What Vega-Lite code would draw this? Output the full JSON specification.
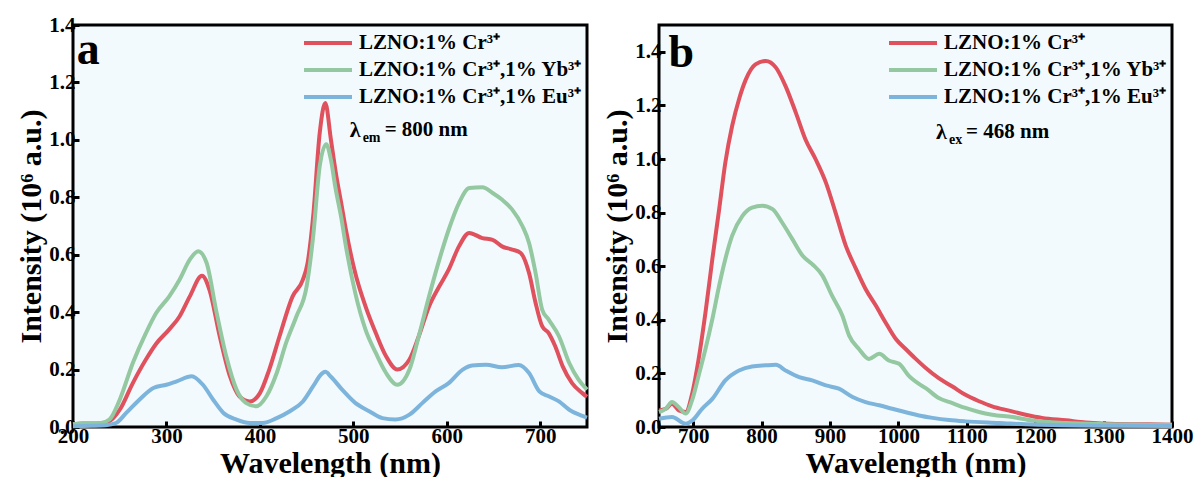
{
  "$schema": "https://vega.github.io/schema/vega-lite/v6.json",
  "background": "white",
  "padding": {"left": 15, "top": 12, "right": 5, "bottom": 0},
  "spacing": 4,
  "datasets": {
    "a": [
      {"w": 200, "v": 0.010, "s": "Cr"}, {"w": 210, "v": 0.012, "s": "Cr"}, {"w": 220, "v": 0.012, "s": "Cr"}, {"w": 230, "v": 0.013, "s": "Cr"}, {"w": 239, "v": 0.020, "s": "Cr"}, {"w": 250, "v": 0.060, "s": "Cr"}, {"w": 264, "v": 0.153, "s": "Cr"}, {"w": 278, "v": 0.235, "s": "Cr"}, {"w": 289, "v": 0.290, "s": "Cr"}, {"w": 303, "v": 0.340, "s": "Cr"}, {"w": 314, "v": 0.385, "s": "Cr"}, {"w": 325, "v": 0.455, "s": "Cr"}, {"w": 338, "v": 0.527, "s": "Cr"}, {"w": 346, "v": 0.478, "s": "Cr"}, {"w": 357, "v": 0.316, "s": "Cr"}, {"w": 368, "v": 0.176, "s": "Cr"}, {"w": 378, "v": 0.107, "s": "Cr"}, {"w": 389, "v": 0.089, "s": "Cr"}, {"w": 400, "v": 0.118, "s": "Cr"}, {"w": 410, "v": 0.200, "s": "Cr"}, {"w": 421, "v": 0.316, "s": "Cr"}, {"w": 435, "v": 0.455, "s": "Cr"}, {"w": 446, "v": 0.513, "s": "Cr"}, {"w": 451, "v": 0.571, "s": "Cr"}, {"w": 457, "v": 0.734, "s": "Cr"}, {"w": 464, "v": 1.024, "s": "Cr"}, {"w": 470, "v": 1.128, "s": "Cr"}, {"w": 476, "v": 1.000, "s": "Cr"}, {"w": 481, "v": 0.890, "s": "Cr"}, {"w": 487, "v": 0.780, "s": "Cr"}, {"w": 492, "v": 0.687, "s": "Cr"}, {"w": 502, "v": 0.536, "s": "Cr"}, {"w": 513, "v": 0.420, "s": "Cr"}, {"w": 524, "v": 0.327, "s": "Cr"}, {"w": 535, "v": 0.246, "s": "Cr"}, {"w": 547, "v": 0.200, "s": "Cr"}, {"w": 560, "v": 0.235, "s": "Cr"}, {"w": 570, "v": 0.316, "s": "Cr"}, {"w": 581, "v": 0.420, "s": "Cr"}, {"w": 592, "v": 0.490, "s": "Cr"}, {"w": 602, "v": 0.548, "s": "Cr"}, {"w": 613, "v": 0.629, "s": "Cr"}, {"w": 624, "v": 0.676, "s": "Cr"}, {"w": 638, "v": 0.658, "s": "Cr"}, {"w": 649, "v": 0.652, "s": "Cr"}, {"w": 659, "v": 0.629, "s": "Cr"}, {"w": 670, "v": 0.618, "s": "Cr"}, {"w": 679, "v": 0.606, "s": "Cr"}, {"w": 688, "v": 0.536, "s": "Cr"}, {"w": 695, "v": 0.432, "s": "Cr"}, {"w": 702, "v": 0.351, "s": "Cr"}, {"w": 709, "v": 0.327, "s": "Cr"}, {"w": 716, "v": 0.281, "s": "Cr"}, {"w": 724, "v": 0.211, "s": "Cr"}, {"w": 734, "v": 0.153, "s": "Cr"}, {"w": 745, "v": 0.118, "s": "Cr"}, {"w": 750, "v": 0.105, "s": "Cr"},
      {"w": 200, "v": 0.010, "s": "Yb"}, {"w": 210, "v": 0.012, "s": "Yb"}, {"w": 220, "v": 0.012, "s": "Yb"}, {"w": 230, "v": 0.014, "s": "Yb"}, {"w": 239, "v": 0.026, "s": "Yb"}, {"w": 250, "v": 0.095, "s": "Yb"}, {"w": 264, "v": 0.223, "s": "Yb"}, {"w": 278, "v": 0.327, "s": "Yb"}, {"w": 289, "v": 0.397, "s": "Yb"}, {"w": 303, "v": 0.455, "s": "Yb"}, {"w": 314, "v": 0.513, "s": "Yb"}, {"w": 325, "v": 0.583, "s": "Yb"}, {"w": 334, "v": 0.612, "s": "Yb"}, {"w": 343, "v": 0.571, "s": "Yb"}, {"w": 353, "v": 0.409, "s": "Yb"}, {"w": 364, "v": 0.246, "s": "Yb"}, {"w": 375, "v": 0.130, "s": "Yb"}, {"w": 385, "v": 0.084, "s": "Yb"}, {"w": 396, "v": 0.072, "s": "Yb"}, {"w": 407, "v": 0.107, "s": "Yb"}, {"w": 418, "v": 0.188, "s": "Yb"}, {"w": 428, "v": 0.293, "s": "Yb"}, {"w": 439, "v": 0.385, "s": "Yb"}, {"w": 450, "v": 0.490, "s": "Yb"}, {"w": 457, "v": 0.664, "s": "Yb"}, {"w": 464, "v": 0.908, "s": "Yb"}, {"w": 471, "v": 0.985, "s": "Yb"}, {"w": 476, "v": 0.930, "s": "Yb"}, {"w": 481, "v": 0.830, "s": "Yb"}, {"w": 487, "v": 0.730, "s": "Yb"}, {"w": 492, "v": 0.630, "s": "Yb"}, {"w": 502, "v": 0.467, "s": "Yb"}, {"w": 513, "v": 0.339, "s": "Yb"}, {"w": 524, "v": 0.258, "s": "Yb"}, {"w": 535, "v": 0.188, "s": "Yb"}, {"w": 547, "v": 0.147, "s": "Yb"}, {"w": 560, "v": 0.200, "s": "Yb"}, {"w": 570, "v": 0.316, "s": "Yb"}, {"w": 581, "v": 0.455, "s": "Yb"}, {"w": 592, "v": 0.583, "s": "Yb"}, {"w": 602, "v": 0.687, "s": "Yb"}, {"w": 613, "v": 0.780, "s": "Yb"}, {"w": 624, "v": 0.832, "s": "Yb"}, {"w": 638, "v": 0.835, "s": "Yb"}, {"w": 649, "v": 0.815, "s": "Yb"}, {"w": 659, "v": 0.792, "s": "Yb"}, {"w": 670, "v": 0.757, "s": "Yb"}, {"w": 681, "v": 0.699, "s": "Yb"}, {"w": 688, "v": 0.641, "s": "Yb"}, {"w": 695, "v": 0.536, "s": "Yb"}, {"w": 702, "v": 0.409, "s": "Yb"}, {"w": 709, "v": 0.374, "s": "Yb"}, {"w": 720, "v": 0.316, "s": "Yb"}, {"w": 731, "v": 0.223, "s": "Yb"}, {"w": 741, "v": 0.165, "s": "Yb"}, {"w": 750, "v": 0.130, "s": "Yb"},
      {"w": 200, "v": 0.003, "s": "Eu"}, {"w": 220, "v": 0.004, "s": "Eu"}, {"w": 235, "v": 0.006, "s": "Eu"}, {"w": 246, "v": 0.014, "s": "Eu"}, {"w": 257, "v": 0.049, "s": "Eu"}, {"w": 271, "v": 0.095, "s": "Eu"}, {"w": 286, "v": 0.136, "s": "Eu"}, {"w": 300, "v": 0.147, "s": "Eu"}, {"w": 311, "v": 0.159, "s": "Eu"}, {"w": 327, "v": 0.177, "s": "Eu"}, {"w": 339, "v": 0.147, "s": "Eu"}, {"w": 350, "v": 0.095, "s": "Eu"}, {"w": 361, "v": 0.049, "s": "Eu"}, {"w": 375, "v": 0.026, "s": "Eu"}, {"w": 389, "v": 0.014, "s": "Eu"}, {"w": 403, "v": 0.014, "s": "Eu"}, {"w": 418, "v": 0.031, "s": "Eu"}, {"w": 432, "v": 0.055, "s": "Eu"}, {"w": 446, "v": 0.089, "s": "Eu"}, {"w": 457, "v": 0.142, "s": "Eu"}, {"w": 466, "v": 0.185, "s": "Eu"}, {"w": 470, "v": 0.192, "s": "Eu"}, {"w": 476, "v": 0.175, "s": "Eu"}, {"w": 488, "v": 0.130, "s": "Eu"}, {"w": 502, "v": 0.084, "s": "Eu"}, {"w": 517, "v": 0.055, "s": "Eu"}, {"w": 531, "v": 0.031, "s": "Eu"}, {"w": 545, "v": 0.026, "s": "Eu"}, {"w": 560, "v": 0.043, "s": "Eu"}, {"w": 574, "v": 0.084, "s": "Eu"}, {"w": 588, "v": 0.124, "s": "Eu"}, {"w": 602, "v": 0.153, "s": "Eu"}, {"w": 617, "v": 0.200, "s": "Eu"}, {"w": 627, "v": 0.214, "s": "Eu"}, {"w": 642, "v": 0.217, "s": "Eu"}, {"w": 659, "v": 0.208, "s": "Eu"}, {"w": 677, "v": 0.216, "s": "Eu"}, {"w": 688, "v": 0.188, "s": "Eu"}, {"w": 699, "v": 0.124, "s": "Eu"}, {"w": 709, "v": 0.107, "s": "Eu"}, {"w": 720, "v": 0.089, "s": "Eu"}, {"w": 731, "v": 0.060, "s": "Eu"}, {"w": 745, "v": 0.039, "s": "Eu"}, {"w": 750, "v": 0.033, "s": "Eu"}
    ],
    "b": [
      {"w": 650, "v": 0.062, "s": "Cr"}, {"w": 660, "v": 0.068, "s": "Cr"}, {"w": 669, "v": 0.087, "s": "Cr"}, {"w": 679, "v": 0.062, "s": "Cr"}, {"w": 689, "v": 0.056, "s": "Cr"}, {"w": 699, "v": 0.130, "s": "Cr"}, {"w": 708, "v": 0.254, "s": "Cr"}, {"w": 718, "v": 0.428, "s": "Cr"}, {"w": 728, "v": 0.627, "s": "Cr"}, {"w": 738, "v": 0.813, "s": "Cr"}, {"w": 747, "v": 0.987, "s": "Cr"}, {"w": 757, "v": 1.124, "s": "Cr"}, {"w": 767, "v": 1.223, "s": "Cr"}, {"w": 777, "v": 1.297, "s": "Cr"}, {"w": 791, "v": 1.353, "s": "Cr"}, {"w": 806, "v": 1.366, "s": "Cr"}, {"w": 821, "v": 1.341, "s": "Cr"}, {"w": 835, "v": 1.272, "s": "Cr"}, {"w": 850, "v": 1.173, "s": "Cr"}, {"w": 864, "v": 1.074, "s": "Cr"}, {"w": 879, "v": 0.999, "s": "Cr"}, {"w": 894, "v": 0.912, "s": "Cr"}, {"w": 908, "v": 0.801, "s": "Cr"}, {"w": 923, "v": 0.677, "s": "Cr"}, {"w": 938, "v": 0.590, "s": "Cr"}, {"w": 952, "v": 0.515, "s": "Cr"}, {"w": 967, "v": 0.453, "s": "Cr"}, {"w": 981, "v": 0.391, "s": "Cr"}, {"w": 996, "v": 0.329, "s": "Cr"}, {"w": 1011, "v": 0.290, "s": "Cr"}, {"w": 1025, "v": 0.255, "s": "Cr"}, {"w": 1040, "v": 0.220, "s": "Cr"}, {"w": 1059, "v": 0.182, "s": "Cr"}, {"w": 1079, "v": 0.151, "s": "Cr"}, {"w": 1098, "v": 0.120, "s": "Cr"}, {"w": 1118, "v": 0.096, "s": "Cr"}, {"w": 1137, "v": 0.077, "s": "Cr"}, {"w": 1162, "v": 0.061, "s": "Cr"}, {"w": 1186, "v": 0.046, "s": "Cr"}, {"w": 1210, "v": 0.034, "s": "Cr"}, {"w": 1245, "v": 0.025, "s": "Cr"}, {"w": 1274, "v": 0.017, "s": "Cr"}, {"w": 1318, "v": 0.011, "s": "Cr"}, {"w": 1366, "v": 0.010, "s": "Cr"}, {"w": 1400, "v": 0.008, "s": "Cr"},
      {"w": 650, "v": 0.056, "s": "Yb"}, {"w": 660, "v": 0.068, "s": "Yb"}, {"w": 669, "v": 0.093, "s": "Yb"}, {"w": 679, "v": 0.074, "s": "Yb"}, {"w": 689, "v": 0.050, "s": "Yb"}, {"w": 699, "v": 0.105, "s": "Yb"}, {"w": 708, "v": 0.192, "s": "Yb"}, {"w": 718, "v": 0.292, "s": "Yb"}, {"w": 728, "v": 0.403, "s": "Yb"}, {"w": 738, "v": 0.528, "s": "Yb"}, {"w": 747, "v": 0.627, "s": "Yb"}, {"w": 757, "v": 0.714, "s": "Yb"}, {"w": 772, "v": 0.788, "s": "Yb"}, {"w": 786, "v": 0.819, "s": "Yb"}, {"w": 801, "v": 0.826, "s": "Yb"}, {"w": 816, "v": 0.813, "s": "Yb"}, {"w": 830, "v": 0.763, "s": "Yb"}, {"w": 845, "v": 0.701, "s": "Yb"}, {"w": 860, "v": 0.639, "s": "Yb"}, {"w": 874, "v": 0.608, "s": "Yb"}, {"w": 889, "v": 0.565, "s": "Yb"}, {"w": 903, "v": 0.490, "s": "Yb"}, {"w": 918, "v": 0.416, "s": "Yb"}, {"w": 928, "v": 0.341, "s": "Yb"}, {"w": 942, "v": 0.292, "s": "Yb"}, {"w": 957, "v": 0.254, "s": "Yb"}, {"w": 972, "v": 0.273, "s": "Yb"}, {"w": 986, "v": 0.248, "s": "Yb"}, {"w": 1001, "v": 0.236, "s": "Yb"}, {"w": 1015, "v": 0.192, "s": "Yb"}, {"w": 1030, "v": 0.161, "s": "Yb"}, {"w": 1040, "v": 0.145, "s": "Yb"}, {"w": 1059, "v": 0.108, "s": "Yb"}, {"w": 1079, "v": 0.089, "s": "Yb"}, {"w": 1098, "v": 0.071, "s": "Yb"}, {"w": 1118, "v": 0.056, "s": "Yb"}, {"w": 1137, "v": 0.046, "s": "Yb"}, {"w": 1167, "v": 0.037, "s": "Yb"}, {"w": 1196, "v": 0.024, "s": "Yb"}, {"w": 1245, "v": 0.015, "s": "Yb"}, {"w": 1293, "v": 0.011, "s": "Yb"}, {"w": 1400, "v": 0.008, "s": "Yb"},
      {"w": 650, "v": 0.031, "s": "Eu"}, {"w": 669, "v": 0.037, "s": "Eu"}, {"w": 689, "v": 0.012, "s": "Eu"}, {"w": 699, "v": 0.025, "s": "Eu"}, {"w": 713, "v": 0.068, "s": "Eu"}, {"w": 728, "v": 0.105, "s": "Eu"}, {"w": 747, "v": 0.174, "s": "Eu"}, {"w": 767, "v": 0.211, "s": "Eu"}, {"w": 786, "v": 0.226, "s": "Eu"}, {"w": 806, "v": 0.230, "s": "Eu"}, {"w": 821, "v": 0.232, "s": "Eu"}, {"w": 835, "v": 0.211, "s": "Eu"}, {"w": 855, "v": 0.186, "s": "Eu"}, {"w": 874, "v": 0.174, "s": "Eu"}, {"w": 894, "v": 0.155, "s": "Eu"}, {"w": 913, "v": 0.143, "s": "Eu"}, {"w": 933, "v": 0.112, "s": "Eu"}, {"w": 952, "v": 0.093, "s": "Eu"}, {"w": 972, "v": 0.081, "s": "Eu"}, {"w": 991, "v": 0.068, "s": "Eu"}, {"w": 1011, "v": 0.055, "s": "Eu"}, {"w": 1030, "v": 0.043, "s": "Eu"}, {"w": 1050, "v": 0.034, "s": "Eu"}, {"w": 1074, "v": 0.026, "s": "Eu"}, {"w": 1098, "v": 0.021, "s": "Eu"}, {"w": 1147, "v": 0.015, "s": "Eu"}, {"w": 1196, "v": 0.009, "s": "Eu"}, {"w": 1293, "v": 0.005, "s": "Eu"}, {"w": 1400, "v": 0.004, "s": "Eu"}
    ]
  },
  "hconcat": [
    {
      "width": 514,
      "height": 402,
      "layer": [
        {
          "data": {"name": "a"},
          "mark": {"type": "line", "strokeWidth": 4, "interpolate": "monotone"},
          "encoding": {
            "x": {"field": "w", "type": "quantitative", "scale": {"domain": [200, 750], "nice": false, "zero": false}, "axis": {"title": "Wavelength (nm)", "values": [200, 300, 400, 500, 600, 700], "format": "d"}},
            "y": {"field": "v", "type": "quantitative", "scale": {"domain": [0, 1.4], "nice": false}, "axis": {"title": "Intensity (10⁶ a.u.)", "values": [0, 0.2, 0.4, 0.6, 0.8, 1.0, 1.2, 1.4], "format": ".1f"}},
            "color": {"field": "s", "type": "nominal", "scale": {"domain": ["Cr", "Yb", "Eu"], "range": ["#e0515e", "#94c8a0", "#7db4dc"]}, "legend": {"labelExpr": "datum.label == 'Cr' ? 'LZNO:1% Cr³⁺' : datum.label == 'Yb' ? 'LZNO:1% Cr³⁺,1% Yb³⁺' : 'LZNO:1% Cr³⁺,1% Eu³⁺'"}}
          }
        },
        {
          "data": {"values": [{"w": 204, "v": 1.265, "t": "a"}]},
          "mark": {"type": "text", "fontSize": 46, "fontWeight": "bold", "font": "Liberation Serif", "align": "left", "baseline": "alphabetic", "color": "black"},
          "encoding": {"x": {"field": "w", "type": "quantitative"}, "y": {"field": "v", "type": "quantitative"}, "text": {"field": "t"}}
        },
        {
          "data": {"values": [{"w": 496, "v": 1.034, "sym": "λ", "sub": "em", "rest": "= 800 nm"}]},
          "layer": [
            {"mark": {"type": "text", "fontSize": 22, "fontWeight": "bold", "font": "Liberation Serif", "align": "left", "baseline": "middle", "color": "black"}, "encoding": {"x": {"field": "w", "type": "quantitative"}, "y": {"field": "v", "type": "quantitative"}, "text": {"field": "sym"}}},
            {"mark": {"type": "text", "fontSize": 14, "fontWeight": "bold", "font": "Liberation Serif", "align": "left", "baseline": "middle", "dx": 13, "dy": 8, "color": "black"}, "encoding": {"x": {"field": "w", "type": "quantitative"}, "y": {"field": "v", "type": "quantitative"}, "text": {"field": "sub"}}},
            {"mark": {"type": "text", "fontSize": 21, "fontWeight": "bold", "font": "Liberation Serif", "align": "left", "baseline": "middle", "dx": 35, "color": "black"}, "encoding": {"x": {"field": "w", "type": "quantitative"}, "y": {"field": "v", "type": "quantitative"}, "text": {"field": "rest"}}}
          ]
        }
      ]
    },
    {
      "width": 513,
      "height": 402,
      "layer": [
        {
          "data": {"name": "b"},
          "mark": {"type": "line", "strokeWidth": 4, "interpolate": "monotone"},
          "encoding": {
            "x": {"field": "w", "type": "quantitative", "scale": {"domain": [650, 1400], "nice": false, "zero": false}, "axis": {"title": "Wavelength (nm)", "values": [700, 800, 900, 1000, 1100, 1200, 1300, 1400], "format": "d"}},
            "y": {"field": "v", "type": "quantitative", "scale": {"domain": [0, 1.5], "nice": false}, "axis": {"title": "Intensity (10⁶ a.u.)", "values": [0, 0.2, 0.4, 0.6, 0.8, 1.0, 1.2, 1.4], "format": ".1f"}},
            "color": {"field": "s", "type": "nominal", "scale": {"domain": ["Cr", "Yb", "Eu"], "range": ["#e0515e", "#94c8a0", "#7db4dc"]}, "legend": {"labelExpr": "datum.label == 'Cr' ? 'LZNO:1% Cr³⁺' : datum.label == 'Yb' ? 'LZNO:1% Cr³⁺,1% Yb³⁺' : 'LZNO:1% Cr³⁺,1% Eu³⁺'"}}
          }
        },
        {
          "data": {"values": [{"w": 664, "v": 1.345, "t": "b"}]},
          "mark": {"type": "text", "fontSize": 46, "fontWeight": "bold", "font": "Liberation Serif", "align": "left", "baseline": "alphabetic", "color": "black"},
          "encoding": {"x": {"field": "w", "type": "quantitative"}, "y": {"field": "v", "type": "quantitative"}, "text": {"field": "t"}}
        },
        {
          "data": {"values": [{"w": 1055, "v": 1.10, "sym": "λ", "sub": "ex", "rest": "= 468 nm"}]},
          "layer": [
            {"mark": {"type": "text", "fontSize": 22, "fontWeight": "bold", "font": "Liberation Serif", "align": "left", "baseline": "middle", "color": "black"}, "encoding": {"x": {"field": "w", "type": "quantitative"}, "y": {"field": "v", "type": "quantitative"}, "text": {"field": "sym"}}},
            {"mark": {"type": "text", "fontSize": 14, "fontWeight": "bold", "font": "Liberation Serif", "align": "left", "baseline": "middle", "dx": 13, "dy": 8, "color": "black"}, "encoding": {"x": {"field": "w", "type": "quantitative"}, "y": {"field": "v", "type": "quantitative"}, "text": {"field": "sub"}}},
            {"mark": {"type": "text", "fontSize": 21, "fontWeight": "bold", "font": "Liberation Serif", "align": "left", "baseline": "middle", "dx": 30, "color": "black"}, "encoding": {"x": {"field": "w", "type": "quantitative"}, "y": {"field": "v", "type": "quantitative"}, "text": {"field": "rest"}}}
          ]
        }
      ]
    }
  ],
  "resolve": {"scale": {"color": "independent"}, "legend": {"color": "independent"}},
  "config": {
    "font": "Liberation Serif",
    "view": {"stroke": "black", "strokeWidth": 3, "fill": "#f3fafe"},
    "axis": {
      "grid": false,
      "domain": false,
      "labelFont": "Liberation Serif",
      "labelFontWeight": "bold",
      "labelFontSize": 21,
      "labelColor": "black",
      "labelFlush": false,
      "labelOverlap": false,
      "labelPadding": 4,
      "titleFont": "Liberation Serif",
      "titleFontWeight": "bold",
      "titleFontSize": 30,
      "titleColor": "black",
      "titlePadding": 2,
      "tickColor": "black",
      "tickWidth": 3,
      "tickSize": -6
    },
    "legend": {
      "orient": "top-right",
      "offset": 4,
      "padding": 0,
      "title": null,
      "symbolType": "M-2,0H2",
      "symbolSize": 576,
      "symbolStrokeWidth": 4,
      "labelFont": "Liberation Serif",
      "labelFontWeight": "bold",
      "labelFontSize": 21,
      "labelColor": "black",
      "labelOffset": 17,
      "labelLimit": 400,
      "rowPadding": 3
    }
  }
}
